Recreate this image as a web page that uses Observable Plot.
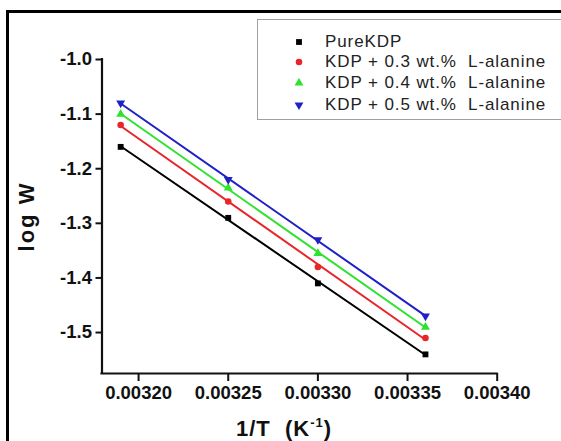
<!DOCTYPE html>
<html>
<head>
<meta charset="utf-8">
<script src="https://cdn.jsdelivr.net/npm/d3@7"></script>
<script src="https://cdn.jsdelivr.net/npm/@observablehq/plot@0.6"></script>
<style>
  html, body { margin: 0; padding: 0; background: #fff; }
  #wrap { position: relative; width: 561px; height: 441px; overflow: hidden; background: #fff;
          font-family: "Liberation Sans", Arial, sans-serif; }
  #wrap > svg { position: absolute; left: 0; top: 0; }
  #border { position: absolute; left: 6px; top: 10px; width: 700px; height: 600px;
            border-left: 3px solid #000; border-top: 3px solid #000; pointer-events: none; }
  #legend { position: absolute; left: 257px; top: 19px; width: 400px; height: 99px;
            border: 1px solid #a0a0a0; background: #fff; }
  #legend .row { position: absolute; left: 0; width: 390px; height: 20px; font-size: 17px; letter-spacing: 0.9px;
         color: #222; white-space: pre; line-height: 20px; }
  #legend .row svg { position: absolute; left: 35px; top: 5px; }
  #legend .row span { position: absolute; left: 67px; top: 0; }
</style>
</head>
<body>
<div id="wrap"></div>
<script>
// ---- data ----
const invT = [0.00319, 0.00325, 0.00330, 0.00336];
const pureKDP = [-1.16, -1.29, -1.41, -1.54];
const kdp03 = [-1.12, -1.26, -1.38, -1.51];
const kdp04 = [-1.10, -1.235, -1.355, -1.49];
const kdp05 = [-1.08, -1.22, -1.33, -1.47];
const seriesNames = ["PureKDP", "KDP + 0.3 wt.%  L-alanine", "KDP + 0.4 wt.%  L-alanine", "KDP + 0.5 wt.%  L-alanine"];
const seriesColors = ["#000000", "#e8262a", "#2ee22e", "#2020c8"];
const xTicks = [0.00320, 0.00325, 0.00330, 0.00335, 0.00340];
const yTicks = [-1.0, -1.1, -1.2, -1.3, -1.4, -1.5];

const allSeries = [pureKDP, kdp03, kdp04, kdp05];

const triangleDown = {
  draw(ctx, size) {
    const y = -Math.sqrt(size / (Math.sqrt(3) * 3));
    ctx.moveTo(0, -y * 2);
    ctx.lineTo(Math.sqrt(3) * y, y);
    ctx.lineTo(-Math.sqrt(3) * y, y);
    ctx.closePath();
  }
};
const symbols = ["square", "circle", "triangle", triangleDown];

const rows = [];
allSeries.forEach((vals, i) => vals.forEach((v, j) => rows.push({x: invT[j], y: v, s: i})));

const xDomain = [0.0031796, 0.00340];
const yDomain = [-1.575, -1.0];
const font = "Liberation Sans, Arial, sans-serif";

const marks = [];
allSeries.forEach((vals, i) => {
  const d = rows.filter(r => r.s === i);
  marks.push(Plot.linearRegressionY(d, {x: "x", y: "y", stroke: seriesColors[i], strokeWidth: 2, ci: 0}));
});
allSeries.forEach((vals, i) => {
  const d = rows.filter(r => r.s === i);
  marks.push(Plot.dot(d, {x: "x", y: "y", fill: seriesColors[i], stroke: "none", symbol: symbols[i], r: 3.3}));
});
marks.push(
  Plot.ruleX([xDomain[0]], {stroke: "#111", strokeWidth: 2.2, strokeLinecap: "square"}),
  Plot.ruleY([yDomain[0]], {stroke: "#111", strokeWidth: 2.2, strokeLinecap: "square"}),
  Plot.axisX(xTicks, {tickSize: 8, tickPadding: 4, fontSize: 18.5, fontWeight: "bold", fill: "#111",
    stroke: "#111", strokeWidth: 2, tickFormat: d => d.toFixed(5), label: null}),
  Plot.axisY(yTicks, {tickSize: 6, tickPadding: 4, fontSize: 18.5, fontWeight: "bold", fill: "#111",
    stroke: "#111", strokeWidth: 2, tickFormat: d => d.toFixed(1), label: null}),
  Plot.text(["log W"], {frameAnchor: "left", dx: -68, rotate: -90, fontSize: 22, fontWeight: "bold",
    fill: "#111", textAnchor: "middle", lineAnchor: "bottom", fontFamily: font}),
);

const chart = Plot.plot({
  width: 561,
  height: 441,
  marginLeft: 101.5,
  marginRight: 64.3,
  marginTop: 59,
  marginBottom: 68,
  x: {domain: xDomain, axis: null},
  y: {domain: yDomain, axis: null},
  style: {fontFamily: font, background: "transparent", color: "#111", overflow: "visible"},
  marks
});

const wrap = document.getElementById("wrap");
wrap.appendChild(chart);

// x-axis title as real text in the svg
const svg = d3.select(chart);
const xt = svg.append("text")
  .attr("x", 284).attr("y", 436)
  .attr("text-anchor", "middle")
  .attr("font-family", font).attr("font-size", 22).attr("font-weight", "bold")
  .attr("letter-spacing", "1px").attr("fill", "#111");
xt.append("tspan").text("1/T  (K");
xt.append("tspan").attr("font-size", 13).attr("dy", -9).text("-1");
xt.append("tspan").attr("dy", 9).text(")");
svg.selectAll("text").filter(function(){ return this.textContent === "log W"; }).attr("letter-spacing", "2px");

const border = document.createElement("div");
border.id = "border";
wrap.appendChild(border);

// legend
const legend = document.createElement("div");
legend.id = "legend";
const rowTops = [12, 32, 53, 75];
seriesNames.forEach((name, i) => {
  const r = document.createElement("div");
  r.className = "row";
  r.style.top = rowTops[i] + "px";
  const ns = "http://www.w3.org/2000/svg";
  const s = document.createElementNS(ns, "svg");
  s.setAttribute("width", 12); s.setAttribute("height", 12);
  const g = document.createElementNS(ns, "g");
  g.setAttribute("transform", "translate(6,5)");
  const p = document.createElementNS(ns, "path");
  const sym = typeof symbols[i] === "string"
    ? {square: d3.symbolSquare, circle: d3.symbolCircle, triangle: d3.symbolTriangle}[symbols[i]]
    : symbols[i];
  p.setAttribute("d", d3.symbol(sym, 34)());
  p.setAttribute("fill", seriesColors[i]);
  g.appendChild(p); s.appendChild(g); r.appendChild(s);
  const t = document.createElement("span");
  t.textContent = name;
  r.appendChild(t);
  legend.appendChild(r);
});
wrap.appendChild(legend);
</script>
</body>
</html>
